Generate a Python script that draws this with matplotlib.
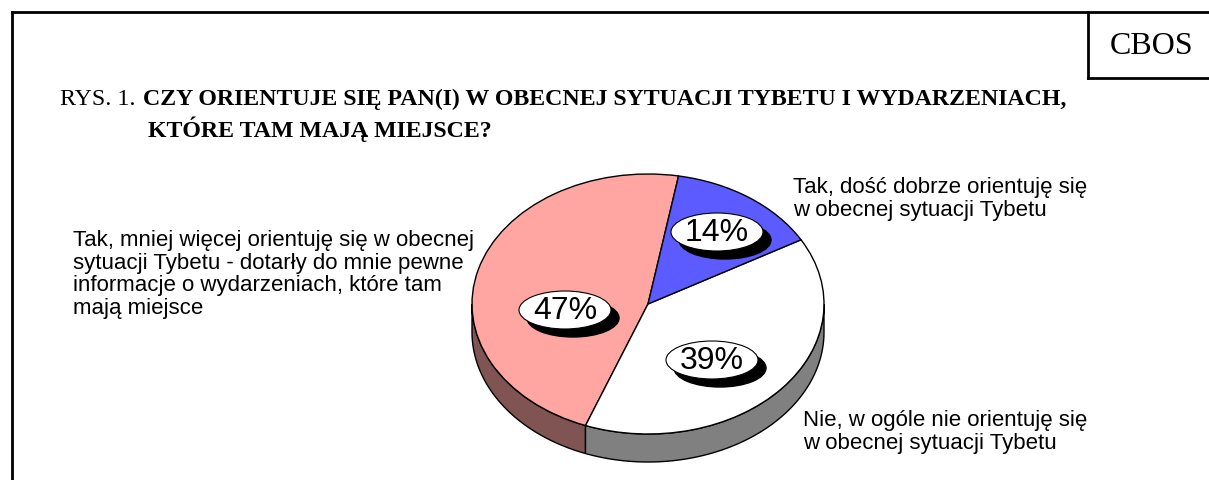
import numpy as np
import matplotlib
matplotlib.use('Agg')
import matplotlib.pyplot as plt
from matplotlib.patches import Ellipse, Polygon

# ── dane ──────────────────────────────────────────────
values = [47, 39, 14]
pct_labels = ['47%', '39%', '14%']
top_colors = ['#FFA6A2', '#FFFFFF', '#5B5BFF']
side_colors = ['#805452', '#808080', '#2E2E80']
cat_labels = [
    'Tak, mniej więcej orientuję się w obecnej\nsytuacji Tybetu - dotarły do mnie pewne\n'
    'informacje o wydarzeniach, które tam\nmają miejsce',
    'Nie, w ogóle nie orientuję się\nw obecnej sytuacji Tybetu',
    'Tak, dość dobrze orientuję się\nw obecnej sytuacji Tybetu',
]

W, H = 1209, 481
START = 80.0      # kąt startowy (°), przeciwnie do wskazówek
CX, CY, RX, RY = 648, 305, 176, 130   # elipsa wierzchu (px)
DEPTH = 28 / RY                       # grubość w jednostkach danych

# pozycje etykiet (px) – procenty i opisy
pct_pos = [(565, 311), (712, 361), (717, 233)]
cat_pos = [(73, 230), (803, 410), (793, 177)]

fig = plt.figure(figsize=(W / 100, H / 100), dpi=100)
fig.patch.set_facecolor('white')


def fx(px):
    return px / W


def fy(py):
    return 1 - py / H


# ── ramka ─────────────────────────────────────────────
lw = 2
fig.add_artist(plt.Line2D([fx(12), 1], [fy(13), fy(13)], color='black', lw=lw))
fig.add_artist(plt.Line2D([fx(12), fx(12)], [fy(13), 0], color='black', lw=lw))
fig.add_artist(plt.Line2D([fx(1088), fx(1088)], [fy(13), fy(79)], color='black', lw=lw))
fig.add_artist(plt.Line2D([fx(1088), 1], [fy(79), fy(79)], color='black', lw=lw))
fig.text(fx(1152), fy(47), 'CBOS', fontsize=23, family='Liberation Serif',
         ha='center', va='center')

# ── tytuł ─────────────────────────────────────────────
TS = 17.2
fig.text(fx(60), fy(105), 'RYS. 1.', fontsize=TS, family='Liberation Serif',
         va='baseline')
fig.text(fx(143), fy(105), 'CZY ORIENTUJE SIĘ PAN(I) W OBECNEJ SYTUACJI TYBETU I WYDARZENIACH,',
         fontsize=TS, family='Liberation Serif', fontweight='bold', va='baseline')
fig.text(fx(148), fy(137), 'KTÓRE TAM MAJĄ MIEJSCE?',
         fontsize=TS, family='Liberation Serif', fontweight='bold', va='baseline')

# ── wykres kołowy 3D ──────────────────────────────────
L, R, T, B = 448, 848, 160, 478
ax = fig.add_axes([fx(L), fy(B), (R - L) / W, (B - T) / H])
ax.axis('off')

fracs = np.array(values, dtype=float) / sum(values)
edges = START + 360 * np.concatenate([[0], np.cumsum(fracs)])

# ścianki boczne (tylko przednia połowa 180–360°)
for i in range(len(values)):
    a1, a2 = edges[i], edges[i + 1]
    for off in (0, 360):
        lo, hi = max(a1, 180 + off), min(a2, 360 + off)
        if hi <= lo:
            continue
        t = np.radians(np.linspace(lo, hi, 120))
        top = np.column_stack([np.cos(t), np.sin(t)])
        bot = np.column_stack([np.cos(t[::-1]), np.sin(t[::-1]) - DEPTH])
        ax.add_patch(Polygon(np.vstack([top, bot]), closed=True,
                             facecolor=side_colors[i], edgecolor='black',
                             lw=1, zorder=1))

wedges, _ = ax.pie(values, colors=top_colors, startangle=START,
                   counterclock=True,
                   wedgeprops=dict(edgecolor='black', linewidth=1))
for w in wedges:
    w.set_zorder(2)
ax.set_aspect('auto')
ax.set_xlim((L - CX) / RX, (R - CX) / RX)
ax.set_ylim((CY - B) / RY, (CY - T) / RY)

# etykiety procentowe w elipsach z cieniem
ew, eh = 92 / RX, 38 / RY
sx, sy = 8 / RX, 8 / RY
for lab, (px, py) in zip(pct_labels, pct_pos):
    x, y = (px - CX) / RX, (CY - py) / RY
    ax.add_patch(Ellipse((x + sx, y - sy), ew, eh, facecolor='black',
                         edgecolor='black', lw=1, zorder=3))
    ax.add_patch(Ellipse((x, y), ew, eh, facecolor='white',
                         edgecolor='black', lw=0.8, zorder=4))
    ax.text(x, y, lab, fontsize=23, family='Liberation Sans',
            ha='center', va='center', zorder=5)

# opisy kategorii
for lab, (px, py) in zip(cat_labels, cat_pos):
    fig.text(fx(px), fy(py), lab, fontsize=16, family='Liberation Sans',
             ha='left', va='top', linespacing=1.1)

fig.savefig('out.png', dpi=100, facecolor='white')
